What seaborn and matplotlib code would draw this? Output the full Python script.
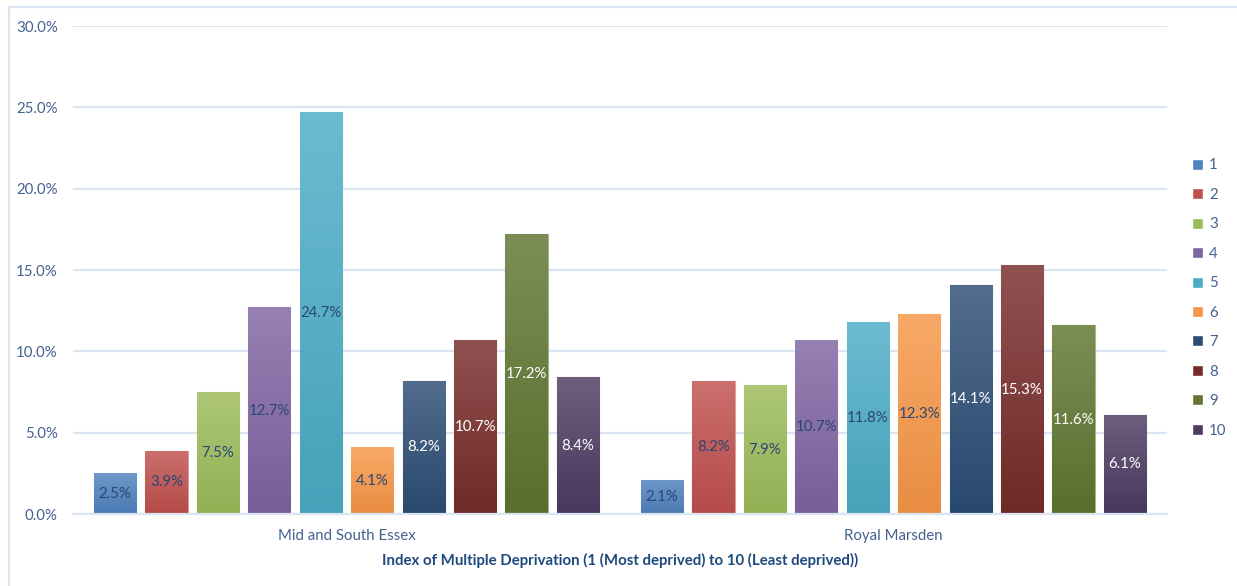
import numpy as np
import pandas as pd
import matplotlib
matplotlib.use("Agg")
import matplotlib.pyplot as plt
import matplotlib.colors as mcolors
from matplotlib.lines import Line2D
import seaborn as sns

# Share of patients by IMD decile, per provider
groups = ["Mid and South Essex", "Royal Marsden"]
deciles = ["1", "2", "3", "4", "5", "6", "7", "8", "9", "10"]
mid_south_essex = [2.5, 3.9, 7.5, 12.7, 24.7, 4.1, 8.2, 10.7, 17.2, 8.4]
royal_marsden = [2.1, 8.2, 7.9, 10.7, 11.8, 12.3, 14.1, 15.3, 11.6, 6.1]
y_ticks = [0, 5, 10, 15, 20, 25, 30]

palette = ["#4F81BD", "#C0504D", "#9BBB59", "#8064A2", "#4BACC6",
           "#F79646", "#2C4D75", "#772C2A", "#5F7530", "#4D3B62"]
label_colors = ["#2A4775"] * 6 + ["#FFFFFF"] * 4
text_color = "#44618F"
grid_color = "#D9E5F3"
title_color = "#1F497D"

df = pd.DataFrame({
    "group": np.repeat(groups, len(deciles)),
    "decile": deciles * len(groups),
    "value": mid_south_essex + royal_marsden,
})

sns.set_style("white")
plt.rcParams["font.family"] = ["Lato", "DejaVu Sans"]

fig = plt.figure(figsize=(12.37, 5.86), dpi=100)
ax = fig.add_axes([73 / 1237, 1 - 514 / 586, (1167 - 73) / 1237, (514 - 26) / 586])

sns.barplot(data=df, x="group", y="value", hue="decile", hue_order=deciles,
            order=groups, palette=palette, width=0.94, gap=0.18,
            saturation=1, ax=ax, legend=True, errorbar=None)

ax.set_xlim(-0.5, 1.5)
ax.set_ylim(0, 30)


def shade(c, amt):
    r, g, b = mcolors.to_rgb(c)
    if amt >= 0:
        return (r + (1 - r) * amt, g + (1 - g) * amt, b + (1 - b) * amt)
    return (r * (1 + amt), g * (1 + amt), b * (1 + amt))


# vertical gradient fill on each bar, lighter at the top
for i, cont in enumerate(ax.containers):
    base = palette[i]
    top = np.array(shade(base, 0.18))
    bot = np.array(shade(base, -0.06))
    t = np.linspace(0, 1, 64)[:, None]
    grad = (bot * (1 - t) + top * t)[:, None, :]
    for bar in cont:
        x, w, h = bar.get_x(), bar.get_width(), bar.get_height()
        bar.set_edgecolor(shade(base, 0.45))
        bar.set_linewidth(0.8)
        im = ax.imshow(grad, extent=[x, x + w, 0, h], origin="lower",
                       aspect="auto", interpolation="bicubic",
                       zorder=bar.get_zorder() + 0.05)
        im.set_clip_path(bar)
    ax.bar_label(cont, labels=[f"{v:.1f}%" for v in cont.datavalues],
                 label_type="center", color=label_colors[i], fontsize=10.8,
                 zorder=10)

ax.set_xlim(-0.5, 1.5)
ax.set_ylim(0, 30)

ax.set_yticks(y_ticks)
ax.set_yticklabels([f"{v:.1f}%" for v in y_ticks], color=text_color, fontsize=10.8)
ax.tick_params(axis="y", length=0, pad=11)
ax.tick_params(axis="x", length=0, pad=11, labelsize=10.8, labelcolor=text_color)
ax.yaxis.grid(True, color=grid_color, linewidth=1.6)
ax.set_axisbelow(True)
for s in ["left", "top", "right"]:
    ax.spines[s].set_visible(False)
ax.spines["bottom"].set_color(grid_color)
ax.spines["bottom"].set_linewidth(1.6)
ax.set_ylabel("")
ax.set_xlabel("Index of Multiple Deprivation (1 (Most deprived) to 10 (Least deprived))",
              color=title_color, fontsize=10.8, fontweight="bold", labelpad=7)

handles, labels = ax.get_legend_handles_labels()
leg = ax.legend(handles, labels, loc="center left",
                bbox_to_anchor=(1186 / 1237, 1 - 298 / 586),
                bbox_transform=fig.transFigure, frameon=False,
                handlelength=0.75, handleheight=0.75, handletextpad=0.4,
                labelspacing=1.03, fontsize=10.8, borderaxespad=0)
for txt in leg.get_texts():
    txt.set_color(text_color)

# outer chart frame
fig.add_artist(Line2D([8.5 / 1237, 8.5 / 1237], [0, 1 - 6.5 / 586],
                      transform=fig.transFigure, color=grid_color, linewidth=1.5))
fig.add_artist(Line2D([8.5 / 1237, 1], [1 - 6.5 / 586, 1 - 6.5 / 586],
                      transform=fig.transFigure, color=grid_color, linewidth=1.5))

fig.savefig("out.png", dpi=100)
